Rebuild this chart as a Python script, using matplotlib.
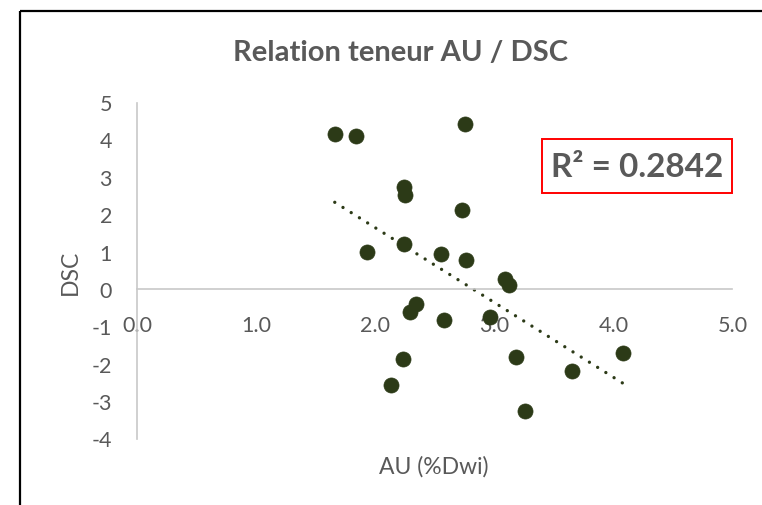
import numpy as np
import matplotlib
matplotlib.use("Agg")
import matplotlib.pyplot as plt
from matplotlib.lines import Line2D
from matplotlib.patches import Rectangle

# ---- data ----
au = [1.66, 1.84, 2.75, 2.24, 2.25, 2.73, 1.93, 2.24, 2.55, 2.76, 3.09, 3.12,
      2.34, 2.29, 2.58, 2.96, 2.23, 3.18, 2.13, 3.26, 3.65, 4.08]
dsc = [4.17, 4.11, 4.43, 2.75, 2.53, 2.13, 1.01, 1.22, 0.96, 0.79, 0.28, 0.13,
       -0.39, -0.60, -0.81, -0.74, -1.86, -1.80, -2.56, -3.26, -2.18, -1.70]
x_ticks = [0, 1, 2, 3, 4, 5]
y_ticks = [-4, -3, -2, -1, 0, 1, 2, 3, 4, 5]
title = "Relation teneur AU / DSC"
xlabel = "AU (%Dwi)"
ylabel = "DSC"
r2_label = "R² = 0.2842"

W, H = 762, 505
plt.rcParams['font.family'] = ['Lato', 'DejaVu Sans']
grey = "#595959"
mk = "#2C3A17"

fig = plt.figure(figsize=((W + 0.5) / 100, (H + 0.5) / 100), dpi=100,
                 facecolor='white')
ax = fig.add_axes([137 / W, 1 - 439 / H, 595 / W, 336 / H])

ax.scatter(au, dsc, s=118, color=mk, edgecolors=mk, linewidths=0.5, zorder=3)

# linear trendline
slope, intercept = np.polyfit(au, dsc, 1)
xt = np.array([min(au), max(au)])
ax.plot(xt, slope * xt + intercept, color=mk, lw=2.4,
        linestyle=(0, (0.01, 2.9)), dash_capstyle='round', zorder=2)

ax.set_xlim(0, 5)
ax.set_ylim(-4, 5)
ax.set_xticks(x_ticks)
ax.set_xticklabels([f"{v:.1f}" for v in x_ticks])
ax.set_yticks(y_ticks)
ax.set_yticklabels([str(v) for v in y_ticks])

for s in ['top', 'right']:
    ax.spines[s].set_visible(False)
ax.spines['bottom'].set_position(('data', 0))
ax.spines['left'].set_position(('data', 0))
for s in ['bottom', 'left']:
    ax.spines[s].set_color("#C8C8C8")
    ax.spines[s].set_linewidth(1.2)
ax.tick_params(axis='both', length=0, labelsize=15.5, labelcolor=grey)
ax.tick_params(axis='x', pad=19)
ax.tick_params(axis='y', pad=18)

fig.text(433 / W, 1 - 466 / H, xlabel, ha='center', va='center', fontsize=16.5, color=grey)
fig.text(70 / W, 1 - 272 / H, ylabel, ha='center', va='center', rotation=90, fontsize=16.5, color=grey)
fig.text(400 / W, 1 - 53 / H, title, ha='center', va='center', fontsize=21,
         fontweight='bold', color=grey)

# R² box
fig.patches.append(Rectangle((542 / W, 1 - 193 / H), 190 / W, 54 / H,
                             transform=fig.transFigure, fill=False,
                             edgecolor="#FF0000", lw=1.4))
fig.text(637 / W, 1 - 167 / H, r2_label, ha='center', va='center', fontsize=24,
         fontweight='bold', color=grey)

# chart border (top and left visible)
fig.add_artist(Line2D([20 / W, 1.01], [1 - 11 / H, 1 - 11 / H], transform=fig.transFigure,
                      color='black', lw=1.6, solid_capstyle='butt'))
fig.add_artist(Line2D([20 / W, 20 / W], [-0.01, 1 - 11 / H], transform=fig.transFigure,
                      color='black', lw=1.6, solid_capstyle='butt'))

fig.savefig("out.png", dpi=100, facecolor='white')
